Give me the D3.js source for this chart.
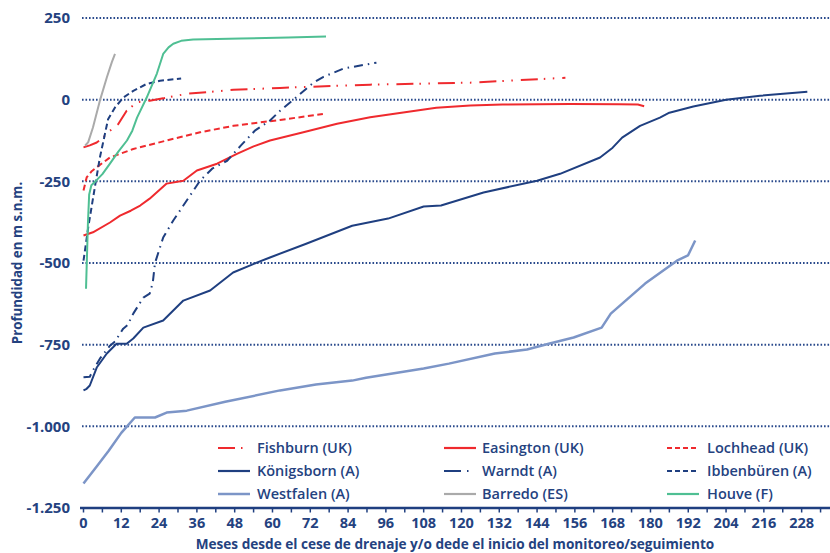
<!DOCTYPE html>
<html>
<head>
<meta charset="utf-8">
<script src="https://cdn.jsdelivr.net/npm/d3@7"></script>
<style>
  body { margin: 0; background: #fff; }
  svg { display: block; font-family: "Open Sans", sans-serif; }
</style>
</head>
<body>
<svg id="chart" width="830" height="553"></svg>
<script>
// months since drainage stop, depth in m a.s.l.
const fishburn = [[0,-146],[2,-140],[4.2,-131],[6,-118],[8.4,-95],[11,-75],[13.7,-34],[17,-8],[21,-3],[25.3,4],[32.8,18],[47.6,30],[62.4,36],[91,46],[122.8,52],[153,67]];
const easington = [[0,-416],[3,-406],[8.4,-376],[11.6,-355],[15,-340],[18,-324],[21,-303],[26.4,-257],[31.7,-248],[36,-217],[42.4,-196],[48.7,-166],[54,-143],[59.2,-125],[69.8,-100],[80.5,-74],[91,-54],[101.5,-39],[112,-25],[122.8,-18],[133,-15],[154.5,-13],[170,-14],[176,-15],[178,-20]];
const lochhead = [[0,-278],[1,-238],[2.5,-220],[4.2,-207],[8.4,-177],[15.8,-151],[26.4,-125],[37,-100],[47.6,-80],[62.4,-62],[76,-44]];
const konigsborn = [[0,-890],[1,-885],[2,-875],[4.2,-820],[7.4,-777],[10.5,-747],[13.7,-747],[15.8,-731],[19,-698],[25.3,-676],[31.7,-615],[40.2,-584],[47.5,-529],[55,-499],[59.2,-483],[70.7,-441],[85.3,-386],[96.7,-364],[108,-327],[113.5,-324],[127,-284],[144,-248],[151.3,-227],[164,-177],[168,-147],[171,-116],[176.7,-80],[183,-55],[186,-40],[193.6,-21],[204,0],[214.8,12],[229.8,24]];
const warndt = [[0,-850],[2,-848],[3,-829],[5.2,-793],[8.4,-753],[10,-740],[12.6,-701],[14,-690],[15.8,-655],[19,-606],[21,-594],[22,-560],[22.7,-500],[25.3,-422],[28.5,-370],[31.7,-324],[37,-248],[41,-210],[45.6,-187],[50,-140],[54.4,-95],[59.2,-64],[62.4,-34],[67,3],[73,52],[76.2,70],[82.5,95],[91,110],[93,113]];
const ibbenburen = [[0,-493],[1.5,-391],[3.6,-268],[5.2,-177],[6.8,-105],[7.8,-60],[10,-24],[12.6,6],[15.8,27],[20,48],[24.3,58],[31,65]];
const westfalen = [[0,-1175],[4,-1125],[8,-1075],[12,-1020],[16.3,-973],[22.7,-973],[26.4,-958],[32.8,-952],[45,-925],[62.4,-890],[73.8,-872],[85.3,-860],[89.7,-851],[108,-823],[116,-808],[130.6,-777],[140.8,-765],[147.7,-747],[155.6,-728],[164.5,-698],[167.4,-655],[178.3,-563],[188.4,-493],[191.9,-477],[194.2,-431]];
const barredo = [[0.5,-141],[1.5,-130],[3,-85],[5.2,-3],[7.4,68],[9,115],[10,140]];
const houve = [[0.8,-579],[1.1,-480],[1.4,-380],[1.8,-290],[2.5,-262],[4,-248],[6,-228],[8.4,-196],[11,-160],[13.8,-125],[15.5,-95],[17,-55],[20,5],[23.3,80],[25.3,140],[27,160],[28.5,171],[31,180],[34.8,184],[50,187],[65,190],[77,193]];

const legendNames = ["Fishburn (UK)", "Easington (UK)", "Lochhead (UK)",
                     "Königsborn (A)", "Warndt (A)", "Ibbenbüren (A)",
                     "Westfalen (A)", "Barredo (ES)", "Houve (F)"];
const yTicks = [250, 0, -250, -500, -750, -1000, -1250];
const yTickLabels = ["250", "0", "-250", "-500", "-750", "-1.000", "-1.250"];
const xLabelTicks = d3.range(0, 229, 12);
const xMinorTicks = d3.range(0, 235, 6);

const red = "#ef2a2e", navy = "#1f3f80", text = "#24427f";
const styles = [
  { data: fishburn, color: red, dash: "17,6,1.5,7.5,1.5,8", legendDash: "17,6,1.5,8" },
  { data: easington, color: red, dash: null },
  { data: lochhead, color: red, dash: "6,3.5", legendDash: "5,3" },
  { data: konigsborn, color: navy, dash: null },
  { data: warndt, color: navy, dash: "9,5,1.5,5", legendDash: "17,6,1.5,8" },
  { data: ibbenburen, color: navy, dash: "6,3.5", legendDash: "5,3" },
  { data: westfalen, color: "#7c95c7", dash: null, width: 2.5 },
  { data: barredo, color: "#aaaaaa", dash: null },
  { data: houve, color: "#4fbf93", dash: null }
];

const svg = d3.select("#chart");
const x = d3.scaleLinear().domain([0, 237]).range([83.5, 830]);
const y = d3.scaleLinear().domain([-1250, 250]).range([508, 18]);

// dotted gridlines
svg.append("g").selectAll("line")
  .data(yTicks.filter((d) => d !== -1250))
  .join("line")
  .attr("x1", 82).attr("x2", 830)
  .attr("y1", (d) => y(d)).attr("y2", (d) => y(d))
  .attr("stroke", "#2a4a8c").attr("stroke-width", 2)
  .attr("stroke-dasharray", "1.6,1.9");

// y labels
svg.append("g").selectAll("text")
  .data(yTicks)
  .join("text")
  .attr("x", 70).attr("y", (d) => y(d))
  .attr("dy", "0.36em")
  .attr("text-anchor", "end")
  .attr("fill", text).attr("font-size", 15).attr("font-weight", 700)
  .text((d, i) => yTickLabels[i]);

// series
const line = d3.line().x((d) => x(d[0])).y((d) => y(d[1]));
svg.append("g").selectAll("path")
  .data(styles)
  .join("path")
  .attr("d", (s) => line(s.data))
  .attr("fill", "none")
  .attr("stroke", (s) => s.color)
  .attr("stroke-width", (s) => s.width || 2)
  .attr("stroke-dasharray", (s) => s.dash)
  .attr("stroke-linejoin", "round");

// x axis
const xAxis = svg.append("g").attr("transform", `translate(0,${y(-1250)})`);
xAxis.append("line")
  .attr("x1", 80).attr("x2", 830)
  .attr("stroke", navy).attr("stroke-width", 2.5);
xAxis.selectAll("line.tick")
  .data(xMinorTicks)
  .join("line")
  .attr("class", "tick")
  .attr("x1", (d) => x(d)).attr("x2", (d) => x(d))
  .attr("y1", -1).attr("y2", 4.5)
  .attr("stroke", navy).attr("stroke-width", 1.5);
xAxis.selectAll("text")
  .data(xLabelTicks)
  .join("text")
  .attr("x", (d) => x(d)).attr("y", 20)
  .attr("text-anchor", "middle")
  .attr("fill", text).attr("font-size", 14.5).attr("font-weight", 700)
  .text((d) => d);

svg.append("text")
  .attr("x", 455).attr("y", 549)
  .attr("text-anchor", "middle")
  .attr("fill", text).attr("font-size", 13.6).attr("font-weight", 700)
  .text("Meses desde el cese de drenaje y/o dede el inicio del monitoreo/seguimiento");

svg.append("text")
  .attr("transform", "translate(22,263) rotate(-90)")
  .attr("text-anchor", "middle")
  .attr("fill", text).attr("font-size", 13.3).attr("font-weight", 700)
  .text("Profundidad en m s.n.m.");

// legend 3 x 3
const colX = [218, 444, 667];
const rowY = [448, 471, 494];
const legend = svg.append("g").selectAll("g")
  .data(styles)
  .join("g")
  .attr("transform", (s, i) => `translate(${colX[i % 3]},${rowY[Math.floor(i / 3)]})`);
legend.append("line")
  .attr("x1", 0).attr("x2", (s, i) => (i === 0 || i === 4) ? 28 : 32)
  .attr("stroke", (s) => s.color)
  .attr("stroke-width", (s) => s.width || 2.2)
  .attr("stroke-dasharray", (s) => s.legendDash || null);
legend.append("text")
  .attr("x", (s, i) => [39, 38, 40][i % 3])
  .attr("dy", "0.35em")
  .attr("fill", text).attr("font-size", 14.5).attr("font-weight", 600)
  .text((s, i) => legendNames[i]);
</script>
</body>
</html>
